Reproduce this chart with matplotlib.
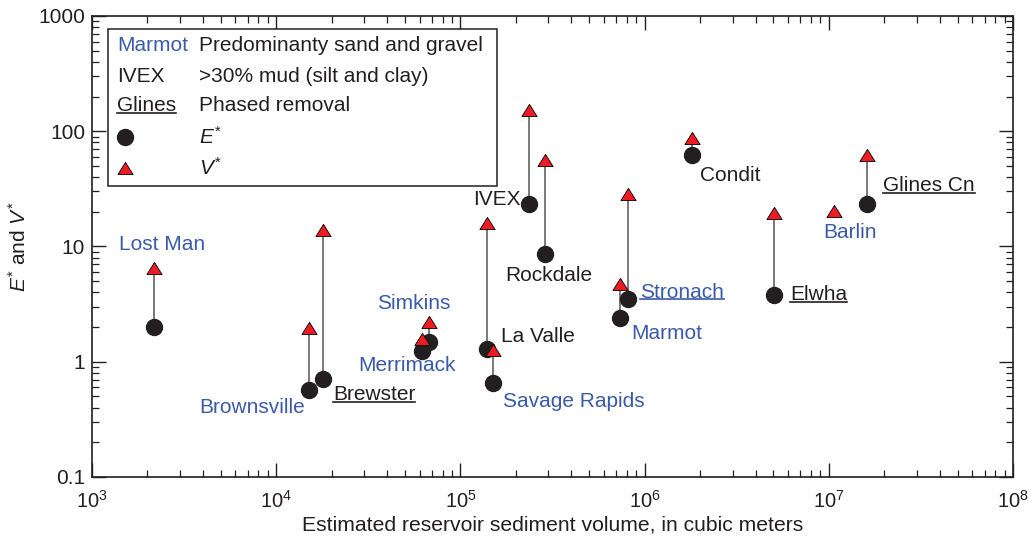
import numpy as np
import matplotlib
matplotlib.use("Agg")
import matplotlib.pyplot as plt
from matplotlib.lines import Line2D
from matplotlib.patches import Rectangle
from matplotlib.ticker import LogLocator, FixedLocator, FixedFormatter, NullFormatter

plt.rcParams['font.family'] = ['Liberation Sans', 'DejaVu Sans']
plt.rcParams['mathtext.fontset'] = 'custom'
plt.rcParams['mathtext.rm'] = 'Liberation Sans'
plt.rcParams['mathtext.it'] = 'Liberation Sans:italic'
plt.rcParams['mathtext.bf'] = 'Liberation Sans:bold'

# data
dams = ['Lost Man', 'Brownsville', 'Brewster', 'Merrimack', 'Simkins', 'La Valle',
        'Savage Rapids', 'IVEX', 'Rockdale', 'Marmot', 'Stronach', 'Condit',
        'Elwha', 'Barlin', 'Glines Cn']
volume = [2170, 15100, 17950, 61900, 67500, 140000, 150900, 236600, 289000,
          735500, 809000, 1.815e6, 5.06e6, 1.063e7, 1.62e7]
e_star = [2.0, 0.57, 0.71, 1.24, 1.48, 1.29, 0.65, 23.4, 8.6, 2.4, 3.5, 62,
          3.8, np.nan, 23.4]
v_star = [6.5, 1.95, 13.9, 1.57, 2.21, 16.0, 1.26, 153, 56, 4.7, 28.6, 87,
          19.5, 20.3, 62]
sediment = ['sand', 'sand', 'mud', 'sand', 'sand', 'mud', 'sand', 'mud', 'mud',
            'sand', 'sand', 'mud', 'mud', 'sand', 'mud']
phased = [False, False, True, False, False, False, False, False, False,
          False, True, False, True, False, True]

yticks = [0.1, 1, 10, 100, 1000]
ytick_labels = ['0.1', '1', '10', '100', '1000']

# label placement: anchor marker, offset in pixels, alignment
label_pos = {
    'Lost Man': ('V', 8, 24, 'center'),
    'Brownsville': ('E', -4, -18, 'right'),
    'Brewster': ('E', 10, -16, 'left'),
    'Merrimack': ('E', -15, -15, 'center'),
    'Simkins': ('V', -15, 19, 'center'),
    'La Valle': ('E', 14, 12, 'left'),
    'Savage Rapids': ('E', 10, -18, 'left'),
    'IVEX': ('E', -9, 4, 'right'),
    'Rockdale': ('E', -40, -21, 'left'),
    'Marmot': ('E', 11, -16, 'left'),
    'Stronach': ('E', 12, 7, 'left'),
    'Condit': ('E', 8, -20, 'left'),
    'Elwha': ('E', 16, 0, 'left'),
    'Barlin': ('V', -10, -21, 'left'),
    'Glines Cn': ('E', 16, 18, 'left'),
}

BLUE = '#3a5ba9'
RED = '#ec1c24'
DARK = '#231f20'

fig = plt.figure(figsize=(10.29, 5.38), dpi=100)
ax = fig.add_axes([0.0894, 0.1134, 0.8951, 0.8569])
ax.set_xscale('log')
ax.set_yscale('log')
ax.set_xlim(1e3, 1e8)
ax.set_ylim(0.1, 1000)

# connecting lines
for x, e, v in zip(volume, e_star, v_star):
    if not np.isnan(e):
        ax.plot([x, x], [e, v], color='#555555', lw=1.1, zorder=2)

tri = [(-1, -0.8), (1, -0.8), (0, 0.8), (-1, -0.8)]
ax.plot(volume, e_star, 'o', ms=11.5, color=DARK, ls='none', zorder=3)
ax.plot(volume, v_star, marker=tri, ms=11, mfc=RED, mec='black', mew=0.6,
        ls='none', zorder=4)

underlined = []
for i, name in enumerate(dams):
    which, dx, dy, ha = label_pos[name]
    y = e_star[i] if which == 'E' else v_star[i]
    col = BLUE if sediment[i] == 'sand' else DARK
    t = ax.annotate(name, (volume[i], y), xytext=(dx, dy), textcoords='offset pixels',
                    ha=ha, va='center', fontsize=15, color=col, zorder=5)
    if phased[i]:
        underlined.append(t)

# ticks
ax.yaxis.set_major_locator(FixedLocator(yticks))
ax.yaxis.set_major_formatter(FixedFormatter(ytick_labels))
ax.yaxis.set_minor_locator(LogLocator(base=10, subs=np.arange(2, 10)))
ax.yaxis.set_minor_formatter(NullFormatter())
ax.xaxis.set_minor_locator(LogLocator(base=10, subs=np.arange(2, 10), numticks=20))
ax.xaxis.set_minor_formatter(NullFormatter())
ax.tick_params(which='both', direction='in', top=True, right=True,
               color='#231f20', labelcolor='#231f20')
ax.tick_params(which='major', length=10, width=1)
ax.tick_params(which='minor', length=5, width=0.9)
ax.tick_params(axis='x', which='major', labelsize=14.5, pad=9)
ax.tick_params(axis='y', which='major', labelsize=15, pad=5)
for s in ax.spines.values():
    s.set_linewidth(1.2)
    s.set_color('#231f20')

ax.set_xlabel('Estimated reservoir sediment volume, in cubic meters', fontsize=15.2,
              color='#231f20', labelpad=3)
ax.set_ylabel(r'$E^{*}$ and $V^{*}$', fontsize=15, color='#231f20', labelpad=6)

# legend box
ax.add_patch(Rectangle((0.0174, 0.6312), 0.4223, 0.3406, transform=ax.transAxes,
                       fc='white', ec='#231f20', lw=1.1, zorder=6))
rows = [0.935, 0.8698, 0.8048, 0.7375, 0.6703]
c1, cm, c2 = 0.0271, 0.0358, 0.1162
ax.text(c1, rows[0], 'Marmot', color=BLUE, fontsize=15, va='center', transform=ax.transAxes, zorder=7)
ax.text(c1, rows[1], 'IVEX', color=DARK, fontsize=15, va='center', transform=ax.transAxes, zorder=7)
lg = ax.text(c1, rows[2], 'Glines', color=DARK, fontsize=15, va='center', transform=ax.transAxes, zorder=7)
underlined.append(lg)
ax.text(c2, rows[0], 'Predominanty sand and gravel', color=DARK, fontsize=15, va='center', transform=ax.transAxes, zorder=7)
ax.text(c2, rows[1], '>30% mud (silt and clay)', color=DARK, fontsize=15, va='center', transform=ax.transAxes, zorder=7)
ax.text(c2, rows[2], 'Phased removal', color=DARK, fontsize=15, va='center', transform=ax.transAxes, zorder=7)
ax.plot([cm], [rows[3]], 'o', ms=11.5, color=DARK, transform=ax.transAxes, zorder=7, clip_on=False)
ax.plot([cm], [rows[4]], marker=tri, ms=11, mfc=RED, mec='black', mew=0.6,
        transform=ax.transAxes, zorder=7, clip_on=False)
ax.text(c2, rows[3], r'$E^{*}$', color=DARK, fontsize=15, va='center', transform=ax.transAxes, zorder=7)
ax.text(c2, rows[4], r'$V^{*}$', color=DARK, fontsize=15, va='center', transform=ax.transAxes, zorder=7)

# underlines for phased-removal labels
fig.canvas.draw()
r = fig.canvas.get_renderer()
inv = fig.transFigure.inverted()
for t in underlined:
    bb = t.get_window_extent(r)
    y = bb.y0 + 2.5
    (x0, yy), (x1, _) = inv.transform([(bb.x0, y), (bb.x1, y)])
    fig.add_artist(Line2D([x0, x1], [yy, yy], transform=fig.transFigure,
                          color=t.get_color(), lw=1.2, zorder=8))

fig.savefig('out.png', dpi=100)
